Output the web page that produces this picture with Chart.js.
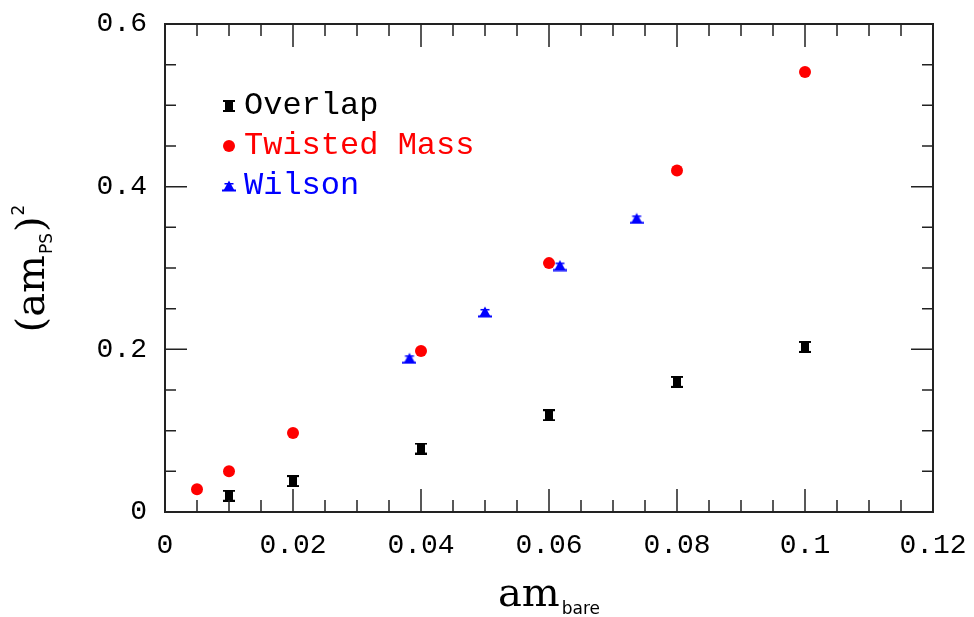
<!DOCTYPE html>
<html>
<head>
<meta charset="utf-8">
<script src="https://cdn.jsdelivr.net/npm/chart.js@4.4.1/dist/chart.umd.min.js"></script>
<style>
  html, body { margin: 0; padding: 0; background: #fff; }
  #wrap { width: 974px; height: 617px; }
</style>
</head>
<body>
<div id="wrap"><canvas id="psChart"></canvas></div>
<script>
// values
const overlapX = [0.01, 0.02, 0.04, 0.06, 0.08, 0.1];
const overlapY = [0.020, 0.038, 0.078, 0.119, 0.160, 0.203];

const twistedX = [0.005, 0.01, 0.02, 0.04, 0.06, 0.08, 0.1];
const twistedY = [0.028, 0.050, 0.097, 0.198, 0.306, 0.420, 0.541];

const wilsonX = [0.0382, 0.0500, 0.0617, 0.0737];
const wilsonY = [0.189, 0.246, 0.303, 0.361];

const seriesNames = ['Overlap', 'Twisted Mass', 'Wilson'];
const seriesColors = ['#000000', '#ff0000', '#0000ff'];

const xTicks = [0, 0.02, 0.04, 0.06, 0.08, 0.1, 0.12];
const yTicks = [0, 0.2, 0.4, 0.6];

function toPoints(xs, ys) {
    return xs.map((x, i) => ({ x: x, y: ys[i] }));
}

// marker with small error bar caps (overlap)
function beamMarker() {
    const c = document.createElement('canvas');
    c.width = 12; c.height = 12;
    const g = c.getContext('2d');
    g.fillStyle = '#000';
    g.fillRect(0, 0, 12, 2);
    g.fillRect(0, 10, 12, 2);
    g.fillRect(2, 2, 8, 8);
    return c;
}

// triangle with error bar caps (wilson)
function triMarker() {
    const c = document.createElement('canvas');
    c.width = 14; c.height = 12;
    const g = c.getContext('2d');
    g.fillStyle = '#0000ff';
    g.beginPath();
    g.moveTo(7, 0.5);
    g.lineTo(1.5, 10.5);
    g.lineTo(12.5, 10.5);
    g.closePath();
    g.fill();
    g.fillRect(0, 9.5, 14, 2);
    g.fillRect(2.5, 3, 9, 1.5);
    return c;
}

const markers = [beamMarker(), 'circle', triMarker()];

const frameTicks = {
    id: 'frameTicks',
    afterDraw(chart) {
        const { ctx, chartArea: a, scales } = chart;
        ctx.save();
        ctx.strokeStyle = '#222';
        ctx.lineWidth = 2;
        ctx.strokeRect(a.left, a.top, a.right - a.left, a.bottom - a.top);
        ctx.lineWidth = 1.5;
        ctx.beginPath();
        for (let i = 1; i < 24; i++) {
            const v = i * 0.005;
            const px = scales.x.getPixelForValue(v);
            const len = i % 4 === 0 ? 23 : 12;
            ctx.moveTo(px, a.bottom); ctx.lineTo(px, a.bottom - len);
            ctx.moveTo(px, a.top); ctx.lineTo(px, a.top + len);
        }
        for (let i = 1; i < 12; i++) {
            const v = i * 0.05;
            const py = scales.y.getPixelForValue(v);
            const len = i % 4 === 0 ? 22 : 11;
            ctx.moveTo(a.left, py); ctx.lineTo(a.left + len, py);
            ctx.moveTo(a.right, py); ctx.lineTo(a.right - len, py);
        }
        ctx.stroke();
        ctx.restore();
    }
};

const legendInside = {
    id: 'legendInside',
    afterDraw(chart) {
        const { ctx, chartArea: a } = chart;
        ctx.save();
        ctx.font = '32px "Liberation Mono"';
        ctx.textBaseline = 'middle';
        chart.data.datasets.forEach((ds, i) => {
            const y = a.top + 82 + i * 40;
            const x = a.left + 64;
            if (i === 1) {
                ctx.fillStyle = seriesColors[i];
                ctx.beginPath();
                ctx.arc(x, y, 6, 0, Math.PI * 2);
                ctx.fill();
            } else {
                const m = markers[i];
                ctx.drawImage(m, x - m.width / 2, y - m.height / 2);
            }
            ctx.fillStyle = seriesColors[i];
            ctx.fillText(ds.label, a.left + 79, y);
        });
        ctx.restore();
    }
};

const axisTitles = {
    id: 'axisTitles',
    afterDraw(chart) {
        const { ctx, chartArea: a } = chart;
        ctx.save();
        ctx.fillStyle = '#000';
        ctx.textBaseline = 'alphabetic';
        const big = '40px "DejaVu Serif"';
        const small = '17px "DejaVu Sans"';

        // x title: am_bare
        ctx.font = big;
        const wAm = ctx.measureText('am').width;
        ctx.font = small;
        const wBare = ctx.measureText('bare').width;
        let x = (a.left + a.right) / 2 - (wAm + wBare + 2) / 2;
        ctx.font = big;
        ctx.fillText('am', x, 606);
        ctx.font = small;
        ctx.fillText('bare', x + wAm + 2, 614);

        // y title: (am_PS)^2
        ctx.translate(44, (a.top + a.bottom) / 2);
        ctx.rotate(-Math.PI / 2);
        const parts = [
            { t: '(am', f: big, dy: 0 },
            { t: 'PS', f: small, dy: 8 },
            { t: ')', f: big, dy: 0 },
            { t: '2', f: small, dy: -20 }
        ];
        let total = 0;
        parts.forEach(p => { ctx.font = p.f; p.w = ctx.measureText(p.t).width; total += p.w + 1; });
        let cx = -total / 2;
        parts.forEach(p => {
            ctx.font = p.f;
            ctx.fillText(p.t, cx, p.dy);
            cx += p.w + 1;
        });
        ctx.restore();
    }
};

const tickFont = { family: '"Liberation Mono"', size: 28 };
const fmt = v => String(+Number(v).toFixed(3));

new Chart(document.getElementById('psChart'), {
    type: 'scatter',
    data: {
        datasets: [
            {
                label: seriesNames[0],
                data: toPoints(overlapX, overlapY),
                pointStyle: markers[0],
                backgroundColor: seriesColors[0],
                borderColor: seriesColors[0]
            },
            {
                label: seriesNames[1],
                data: toPoints(twistedX, twistedY),
                pointStyle: 'circle',
                pointRadius: 6,
                borderWidth: 0,
                backgroundColor: seriesColors[1],
                borderColor: seriesColors[1]
            },
            {
                label: seriesNames[2],
                data: toPoints(wilsonX, wilsonY),
                pointStyle: markers[2],
                backgroundColor: seriesColors[2],
                borderColor: seriesColors[2]
            }
        ]
    },
    options: {
        responsive: true,
        maintainAspectRatio: false,
        animation: false,
        layout: { padding: { top: 24, right: 41, left: 0, bottom: 0 } },
        plugins: {
            legend: { display: false },
            tooltip: { enabled: false }
        },
        scales: {
            x: {
                type: 'linear',
                min: 0,
                max: 0.12,
                afterFit: s => { s.height = 105; s.paddingLeft = 0; s.paddingRight = 0; },
                afterBuildTicks: s => { s.ticks = xTicks.map(v => ({ value: v })); },
                grid: { display: false, drawTicks: false },
                border: { display: false },
                ticks: { font: tickFont, color: '#000', padding: 17, maxRotation: 0, callback: fmt }
            },
            y: {
                type: 'linear',
                min: 0,
                max: 0.6,
                afterFit: s => { s.width = 165; s.paddingTop = 0; s.paddingBottom = 0; },
                afterBuildTicks: s => { s.ticks = yTicks.map(v => ({ value: v })); },
                grid: { display: false, drawTicks: false },
                border: { display: false },
                ticks: { font: tickFont, color: '#000', padding: 18, callback: fmt }
            }
        }
    },
    plugins: [frameTicks, legendInside, axisTitles]
});
</script>
</body>
</html>
